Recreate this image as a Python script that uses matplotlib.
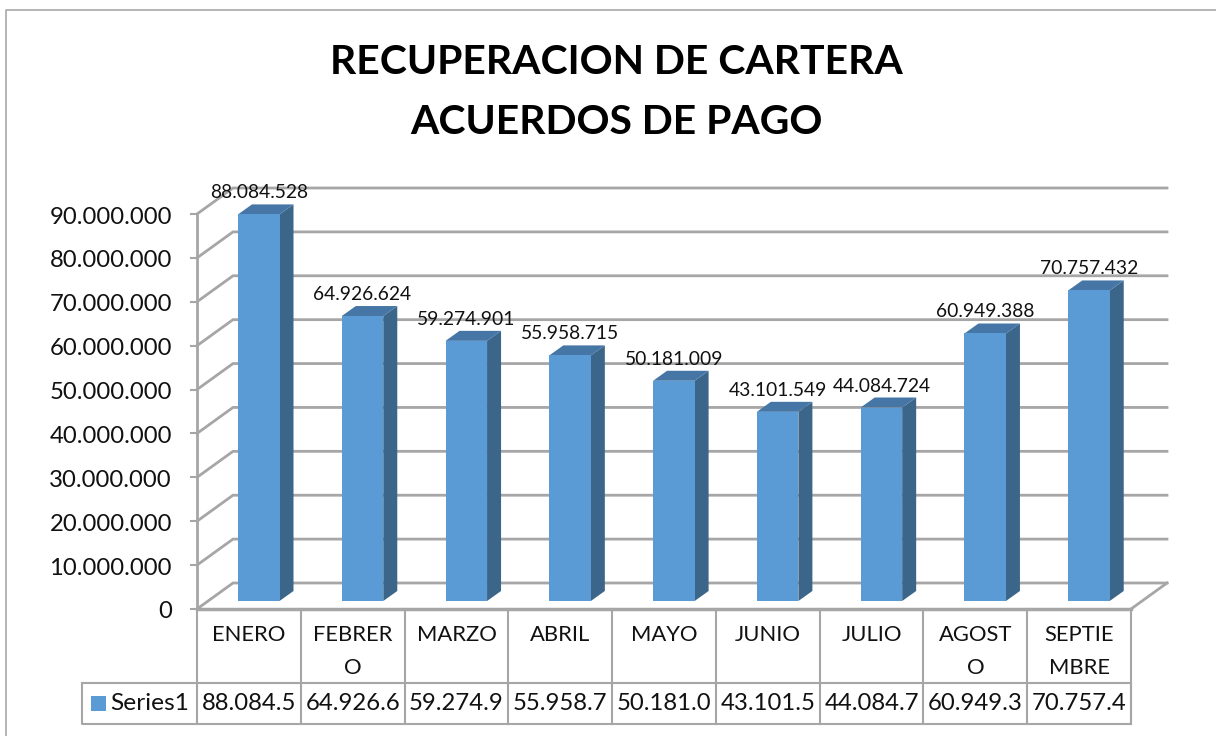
import matplotlib
matplotlib.use("Agg")
import matplotlib.pyplot as plt
from matplotlib.patches import Polygon, Rectangle

plt.rcParams['font.family'] = ['Lato', 'DejaVu Sans']

categories = ["ENERO", "FEBRERO", "MARZO", "ABRIL", "MAYO", "JUNIO", "JULIO", "AGOSTO", "SEPTIEMBRE"]
axis_labels = ["ENERO", "FEBRER\nO", "MARZO", "ABRIL", "MAYO", "JUNIO", "JULIO", "AGOST\nO", "SEPTIE\nMBRE"]
values = [88084528, 64926624, 59274901, 55958715, 50181009, 43101549, 44084724, 60949388, 70757432]
table_labels = ["88.084.5", "64.926.6", "59.274.9", "55.958.7", "50.181.0", "43.101.5", "44.084.7", "60.949.3", "70.757.4"]
y_ticks = [0, 10000000, 20000000, 30000000, 40000000, 50000000, 60000000, 70000000, 80000000, 90000000]
series_name = "Series1"
title_lines = ["RECUPERACION DE CARTERA", "ACUERDOS DE PAGO"]

W, H = 1216, 736
fig = plt.figure(figsize=(W/100, H/100), dpi=100)
fig.patch.set_facecolor("white")

L, R, Y0, Y90 = 197, 1131, 609, 214
ax = fig.add_axes([L/W, 1-Y0/H, (R-L)/W, (Y0-Y90)/H])
ax.set_xlim(0, 9)
ax.set_ylim(0, 90000000)
ax.axis("off")
px = 9/(R-L)
py = 90000000/(Y0-Y90)

GRID = "#A6A6A6"
TXT = "#111111"
FRONT, SIDE, TOP = "#5B9BD5", "#3B6589", "#4576A5"
DX, DY = 36*px, 26*py

# outer frame
fig.add_artist(plt.Line2D([6/W, 6/W, 1], [0, 1-10/H, 1-10/H], color="#A8A8A8", lw=1.2))

# gridlines + walls
for t in y_ticks:
    ax.plot([0, DX, 9+DX], [t, t+DY, t+DY], color=GRID, lw=2, clip_on=False, zorder=1,
            solid_joinstyle="miter")
    ax.plot([-6*px, 0], [t, t], color=GRID, lw=1.5, clip_on=False, zorder=1)
    ax.text(-25*px, t-3*py, f"{t:,}".replace(",", "."), ha="right", va="center", fontsize=17.2, color=TXT, clip_on=False)
ax.plot([0, 0], [0, 90000000], color=GRID, lw=2, clip_on=False, zorder=1)
ax.plot([9, 9+DX], [0, DY], color=GRID, lw=2, clip_on=False, zorder=1)
ax.plot([0, 9], [0, 0], color=GRID, lw=2.5, clip_on=False, zorder=2)

# bars
bw = 41.5*px
off = 41*px
base = 8*py
ddx, ddy = 14*px, 10*py
for i, v in enumerate(values):
    x0 = i + off
    x1 = x0 + bw
    b = base
    top = v + base
    ax.add_patch(Polygon([(x1, b), (x1+ddx, b+ddy), (x1+ddx, top+ddy), (x1, top)], fc=SIDE, ec="none", zorder=3, clip_on=False))
    ax.add_patch(Polygon([(x0, top), (x0+ddx, top+ddy), (x1+ddx, top+ddy), (x1, top)], fc=TOP, ec="none", zorder=3, clip_on=False))
    ax.add_patch(Rectangle((x0, b), bw, v, fc=FRONT, ec="none", zorder=4, clip_on=False))
    ax.text((x0+x1)/2, top+13*py, f"{v:,}".replace(",", "."), ha="center", va="bottom", fontsize=13.9,
            color=TXT, zorder=6, clip_on=False)

# table
t1, t2, t3 = 0, -(683-Y0)*py, -(724-Y0)*py
for i in range(10):
    ax.plot([i, i], [t1, t3], color=GRID, lw=1.5, clip_on=False, zorder=2)
leg = -115*px
ax.plot([leg, 9, 9, leg, leg], [t2, t2, t3, t3, t2], color=GRID, lw=1.5, clip_on=False, zorder=2)
for i in range(9):
    ax.text(i+0.5, t1-42.5*py if "\n" in axis_labels[i] else t1-26*py, axis_labels[i], ha="center", va="center", fontsize=15.8,
            color=TXT, linespacing=1.8, clip_on=False)
    ax.text(i+0.5, (t2+t3)/2, table_labels[i], ha="center", va="center", fontsize=17.2, color=TXT, clip_on=False)
ax.add_patch(Rectangle((leg+9*px, t2-13*py), 15*px, -15*py, fc=FRONT, ec="none", clip_on=False))
ax.text(-8*px, (t2+t3)/2, series_name, ha="right", va="center", fontsize=17.6, color=TXT, clip_on=False)

fig.text(616/W, 1-63/H, title_lines[0], ha="center", va="center", fontsize=29.4, fontweight="bold", color="black")
fig.text(616/W, 1-122/H, title_lines[1], ha="center", va="center", fontsize=29.4, fontweight="bold", color="black")

fig.savefig("out.png", dpi=100)
